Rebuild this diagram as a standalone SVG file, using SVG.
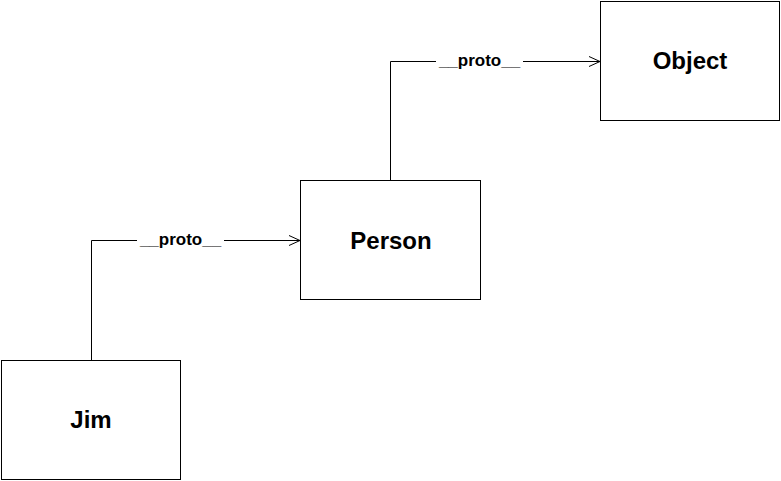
<svg xmlns="http://www.w3.org/2000/svg" width="781" height="481" viewBox="0 0 781 481">
<style>
.node{fill:#fff;stroke:#000;stroke-width:1}
.nt{font-family:"Liberation Sans",Arial,sans-serif;font-weight:bold;font-size:24px;text-anchor:middle;fill:#000}
.edge{fill:none;stroke:#000;stroke-width:1}
.lbl{font-family:"Liberation Sans",Arial,sans-serif;font-weight:bold;font-size:17px;text-anchor:middle;fill:#000}
.lblbg{fill:#fff}
</style>
<defs>
<marker id="arr" markerWidth="12" markerHeight="12" refX="11" refY="6" orient="auto" markerUnits="userSpaceOnUse">
<path d="M0,1 L11,6 L0,11" fill="none" stroke="#000" stroke-width="1"/>
</marker>
</defs>
<rect width="781" height="481" fill="#fff"/>
<g id="connectors">
<g id="e1">
<path class="edge" d="M91.5,360 V240.5 H300" marker-end="url(#arr)"/>
<rect class="lblbg" x="137" y="231" width="87" height="19"/>
<text class="lbl" x="180.5" y="245">__proto__</text>
</g>
<g id="e2">
<path class="edge" d="M390.5,180 V61.5 H600" marker-end="url(#arr)"/>
<rect class="lblbg" x="436" y="52" width="87" height="19"/>
<text class="lbl" x="479.5" y="66">__proto__</text>
</g>
</g>
<g id="jim">
<rect class="node" x="1.5" y="360.5" width="179" height="119"/>
<text class="nt" x="91" y="428">Jim</text>
</g>
<g id="person">
<rect class="node" x="300.5" y="180.5" width="180" height="119"/>
<text class="nt" x="391" y="249">Person</text>
</g>
<g id="object">
<rect class="node" x="600.5" y="1.5" width="179" height="119"/>
<text class="nt" x="690" y="69">Object</text>
</g>
</svg>
